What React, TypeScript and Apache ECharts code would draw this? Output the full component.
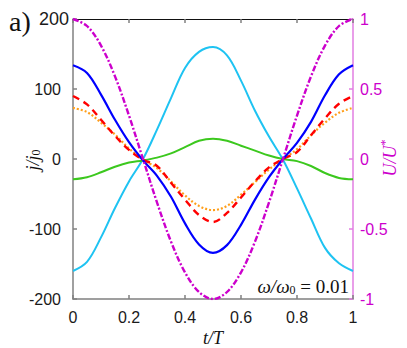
import React, { useEffect, useRef } from "react";
import * as echarts from "echarts";

const T = [0, 0.05, 0.1, 0.15, 0.2, 0.25, 0.3, 0.35, 0.4, 0.45, 0.5, 0.55, 0.6, 0.65, 0.7, 0.75, 0.8, 0.85, 0.9, 0.95, 1];
const cyan = [-160, -147, -112, -70, -32, 0, 42, 87, 130, 153, 160, 148, 112, 69, 32, -1, -42, -85, -127, -149, -160];
const blue = [134, 123, 92, 56, 24, -2, -24, -54, -92, -122, -134, -123, -94, -58, -26, 0, 23, 53, 91, 121, 134];
const green = [-29, -26, -19, -11, -5, -2, 2, 8, 17, 26, 29, 26, 19, 12, 5, 0, -3, -10, -20, -27, -29];
const red = [90, 78, 56, 33, 13, -1, -10, -34, -58, -80, -90, -77, -55, -32, -12, 0, 10, 34, 58, 79, 90];
const orange = [73, 67, 52, 35, 15, -1, -13, -32, -52, -67, -73, -67, -51, -33, -15, 0, 14, 34, 52, 66, 73];
const magenta = [1, 0.95, 0.81, 0.59, 0.31, 0, -0.31, -0.59, -0.81, -0.95, -1, -0.95, -0.81, -0.59, -0.31, 0, 0.31, 0.59, 0.81, 0.95, 1];

const xTicks = { min: 0, max: 1, interval: 0.2 };
const yLeft = { min: -200, max: 200, interval: 100 };
const yRight = { min: -1, max: 1, interval: 0.5 };

const zip = (v: number[]) => T.map((t, i) => [t, v[i]]);

export default function App() {
  const ref = useRef<HTMLDivElement>(null);
  useEffect(() => {
    if (!ref.current) return;
    const chart = echarts.init(ref.current, null, { renderer: "svg" });
    const tickFont = { fontFamily: "Liberation Sans", fontSize: 16, color: "#1a1a1a" };
    const gray = "#808080";
    const mag = "#cc00cc";
    const magLight = "#e27ee2";
    const line = (name: string, data: number[], color: string, type: any, width: number, yIdx = 0) => ({
      name,
      type: "line",
      data: zip(data),
      yAxisIndex: yIdx,
      xAxisIndex: 0,
      smooth: 0.35,
      showSymbol: false,
      symbol: "none",
      lineStyle: { color, width, type },
      z: 3,
    });
    chart.setOption({
      animation: false,
      backgroundColor: "#ffffff",
      grid: { left: 73, top: 19, width: 280, height: 280 },
      xAxis: [
        {
          type: "value",
          position: "bottom",
          ...xTicks,
          axisLine: { show: true, onZero: false, lineStyle: { color: gray, width: 1.5 } },
          axisTick: { show: true, inside: true, length: 4, lineStyle: { color: gray, width: 1.5 } },
          axisLabel: { ...tickFont, margin: 10 },
          splitLine: { show: false },
        },
        {
          type: "value",
          position: "top",
          ...xTicks,
          axisLine: { show: true, onZero: false, lineStyle: { color: "#111", width: 1.2 } },
          axisTick: { show: true, inside: true, length: 4, lineStyle: { color: gray, width: 1.5 } },
          axisLabel: { show: false },
          splitLine: { show: false },
        },
      ],
      yAxis: [
        {
          type: "value",
          position: "left",
          ...yLeft,
          axisLine: { show: true, onZero: false, lineStyle: { color: gray, width: 1.5 } },
          axisTick: { show: true, inside: true, length: 4, lineStyle: { color: gray, width: 1.5 } },
          axisLabel: {
            ...tickFont,
            margin: 12,
            formatter: (v: number) => (v === 200 ? "{big|200}" : String(v)),
            rich: { big: { fontFamily: "Liberation Sans", fontSize: 18, color: "#1a1a1a", padding: [0, -8, 0, 0] } },
          },
          splitLine: { show: false },
        },
        {
          type: "value",
          position: "right",
          ...yRight,
          axisLine: { show: true, onZero: false, lineStyle: { color: magLight, width: 1.5 } },
          axisTick: { show: true, inside: true, length: 4, lineStyle: { color: magLight, width: 1.5 } },
          axisLabel: { ...tickFont, color: mag, margin: 7 },
          splitLine: { show: false },
        },
      ],
      series: [
        line("cyan", cyan, "#1ec3f2", "solid", 2),
        line("green", green, "#3cc81e", "solid", 2),
        line("orange", orange, "#ff9f1a", [2, 2], 2.2),
        line("red", red, "#ff0000", [7, 5], 2.4),
        line("blue", blue, "#0000ff", "solid", 2.2),
        line("U", magenta, mag, [6, 2, 2, 2], 2.4, 1),
      ],
      graphic: [
        {
          type: "text",
          left: 9,
          top: 7,
          style: { text: "a)", font: "28px 'Liberation Serif'", fill: "#111" },
        },
        {
          type: "text",
          x: 32,
          y: 160,
          rotation: Math.PI / 2,
          style: {
            text: "{i|j/j}{s|0}",
            align: "center",
            verticalAlign: "middle",
            rich: {
              i: { fontFamily: "Liberation Serif", fontStyle: "italic", fontSize: 18, fill: "#111", lineHeight: 20, verticalAlign: "bottom" },
              s: { fontFamily: "Liberation Serif", fontSize: 12, fill: "#111", lineHeight: 20, verticalAlign: "bottom", padding: [6, 0, 0, 0] },
            },
          },
        },
        {
          type: "text",
          x: 389,
          y: 158,
          rotation: Math.PI / 2,
          style: {
            text: "{i|U/U}{s|*}",
            align: "center",
            verticalAlign: "middle",
            rich: {
              i: { fontFamily: "Liberation Serif", fontStyle: "italic", fontSize: 18, fill: mag, lineHeight: 20, verticalAlign: "bottom" },
              s: { fontFamily: "Liberation Serif", fontSize: 12, fill: mag, lineHeight: 20, verticalAlign: "top" },
            },
          },
        },
        {
          type: "text",
          x: 213,
          y: 338,
          style: {
            text: "t/T",
            align: "center",
            verticalAlign: "middle",
            font: "italic 18px 'Liberation Serif'",
            fill: "#111",
          },
        },
        {
          type: "text",
          x: 349,
          y: 285,
          z: 10,
          style: {
            text: "{i|ω/ω}{s|0}{n| = 0.01}",
            align: "right",
            verticalAlign: "middle",
            rich: {
              i: { fontFamily: "Liberation Serif", fontStyle: "italic", fontSize: 19, fill: "#111", lineHeight: 22, verticalAlign: "bottom" },
              s: { fontFamily: "Liberation Serif", fontSize: 12, fill: "#111", lineHeight: 22, verticalAlign: "bottom", padding: [6, 0, 0, 0] },
              n: { fontFamily: "Liberation Serif", fontSize: 19, fill: "#111", lineHeight: 22, verticalAlign: "bottom" },
            },
          },
        },
      ],
    });
    return () => chart.dispose();
  }, []);
  return <div ref={ref} style={{ width: 407, height: 348, position: "absolute", left: 0, top: 0 }} />;
}
